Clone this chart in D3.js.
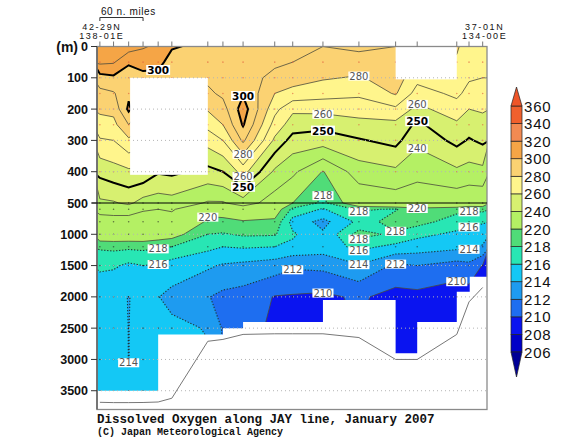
<!DOCTYPE html>
<html>
<head>
<meta charset="utf-8">
<script src="https://cdn.jsdelivr.net/npm/d3@7"></script>
<style>
  body { margin: 0; background: #fff; }
</style>
</head>
<body>
<div id="chart"></div>
<script>
// stations along the section, nautical miles from 42-29N 138-01E
var stationNm = [0, 19, 40, 60, 81, 100, 150, 171, 199, 243, 268, 310, 360, 411, 441, 496, 513, 532];
var depths = [0, 50, 100, 150, 200, 250, 300, 400, 500, 600, 800, 1000, 1200, 1500, 2000, 2500, 3000, 3500];

// dissolved oxygen (umol/kg), one column per station, one value per depth
var oxygen = [
  [318, 312, 296, 287, 282, 276, 269, 253, 238, 233, 226, 222, 218.3, 216.5, 214.05, 214.3, 214.4, 214.4],
  [316, 311, 298, 289, 283, 277, 270, 256, 239, 234, 226, 222, 218.5, 216.3, 214.05, 214.3, 214.4, 214.4],
  [315, 301, 296, 298, 302, 290, 278, 258, 242, 234, 226, 222, 218.4, 215.6, 213.995, 213.99, 213.99, 214.1],
  [311, 304, 297, 292, 288, 282, 275, 258, 236, 231, 225, 222, 218.5, 216, 214.05, 214.3, 214.3, 214.3],
  [308, 303, 297, 292, 288, 282, 275, 251, 235, 230, 225, 221.5, 218.2, 215.8, 214.05, 214.3, 214.3, 214.3],
  [301, 296, 293, 290, 286, 280, 273, 252, 236, 231, 226, 221, 218, 215, 213.5, 214.4, 214.4, 214.4],
  [297, 294, 292, 288, 281, 273, 264, 247, 229, 221, 219.3, 218, 216.5, 214.3, 212.1, 213.9, 214.2, 214.2],
  [294, 293, 293, 292, 286, 280, 270, 250, 229, 221, 219.5, 217.8, 216, 213.8, 211.5, 211.8, 212, 212],
  [293, 292, 295, 299, 305, 301, 292, 264, 235, 224, 219.6, 218.3, 216.2, 213.5, 211.2, 211, 211, 211],
  [294, 292, 287, 280, 273, 266, 258, 238, 225, 221.5, 219.5, 218.2, 216, 213, 209.9, 209.5, 209.5, 209.5],
  [293, 290, 284, 277, 262, 255, 246, 232, 220, 217.5, 215.2, 216.3, 215.5, 212.3, 209.8, 209.3, 209.3, 209.3],
  [290, 287, 281, 274, 263, 253, 245, 219.5, 217.5, 215.8, 213.4, 214.3, 215, 212.5, 209.6, 209.3, 209.3, 209.3],
  [292, 286, 279, 272, 264, 257, 249, 235, 222, 218.3, 216.5, 218.8, 216.5, 213.8, 210.3, 210, 210, 210],
  [290, 288, 285, 281, 268, 257, 253, 238, 224, 217.8, 219.3, 217.5, 215.5, 211.6, 209.3, 209.2, 209, 209],
  [283, 279, 273, 266, 257, 248, 242, 234, 222, 219.5, 218.8, 216.5, 215, 212, 209.4, 209.2, 209.2, 209.2],
  [281, 279, 276, 272, 266, 258, 253, 238, 223, 218.6, 217, 215.6, 214.5, 211.2, 208.8, 209, 209, 209],
  [276, 274, 271, 267, 260, 255, 249, 236, 222, 218.3, 216.5, 215.2, 214.3, 211.5, 209, 209.2, 209.2, 209.2],
  [274, 272, 270, 266, 261, 257, 252, 237, 222, 218.5, 216.2, 215, 213.8, 209.9, 209.2, 209.2, 209.2, 209.2]
];

var seafloor = [3685, 3690, 3690, 3688, 3680, 3620, 2710, 2680, 2600, 2590, 2590, 2590, 2650, 3000, 3000, 2600, 2080, 1850];

var fillLevels = [206, 208, 210, 212, 214, 216, 218, 220, 240, 260, 280, 300, 320, 340, 360];
var fillColors = ["#000096", "#0000c8", "#0a14f0", "#1e6ef0", "#1e9bf0", "#14c8f5", "#28e6b4", "#50dc78",
                  "#b4f064", "#d7f070", "#fff58c", "#fbd272", "#f5a546", "#f28a52", "#f0602d", "#ee5528"];
var lineLevels = [206, 208, 210, 212, 214, 216, 218, 220, 230, 240, 250, 260, 270, 280, 290, 300, 310, 320, 330, 340, 350, 360];
var boldLevels = [250, 300];
var upperTicks = [0, 100, 200, 300, 400, 500];
var lowerTicks = [1000, 1500, 2000, 2500, 3000, 3500];

// white areas without data: [from nm, to nm, top m, bottom m]
var noDataBoxes = [[42, 150, 100, 410], [411, 496, 0, 105]];
// deepest usable data: [from nm, to nm, depth m]
var dataFloor = [[-10, 81, 3500], [81, 171, 2600], [171, 199, 2500], [199, 310, 2400], [310, 411, 2050],
                 [411, 441, 2900], [441, 496, 2400], [496, 514, 1920], [514, 545, 1680]];

// contour labels: [level, station index, n-th crossing from the top]
var contourLabels = [
  [300, 4, 1], [300, 8, 1], [280, 12, 1], [280, 8, 1], [260, 8, 1], [250, 8, 1], [260, 11, 1], [250, 11, 1],
  [260, 14, 1], [250, 14, 1], [240, 14, 1], [218, 11, 1],
  [220, 6, 1], [218, 4, 1], [216, 4, 1], [218, 12, 1], [220, 14, 1], [218, 16, 1], [216, 16, 1], [218, 13, 3],
  [218, 12, 3], [216, 12, 1], [214, 12, 1], [212, 10, 1], [212, 13, 1], [210, 11, 1], [210, 15, 1], [214, 16, 1],
  [214, 2, 2]
];

var width = 570, height = 441;
var plotLeft = 97, plotRight = 487, plotTop = 46.5, plotSplit = 203, plotBottom = 409.5;

var x = d3.scaleLinear().domain([-4, 538]).range([plotLeft, plotRight]);
var y = d3.scaleLinear().domain([0, 500, 3800]).range([plotTop, plotSplit, plotBottom]);
var stationAt = d3.scaleLinear().domain(d3.range(stationNm.length)).range(stationNm);
var depthAt = d3.scaleLinear().domain(d3.range(depths.length)).range(depths);

var nx = stationNm.length, ny = depths.length;
var grid = new Array(nx * ny);
for (var j = 0; j < ny; j++) {
  for (var i = 0; i < nx; i++) grid[j * nx + i] = oxygen[i][j];
}

var svg = d3.select("#chart").append("svg").attr("width", width).attr("height", height);
svg.append("defs").append("clipPath").attr("id", "plotClip")
  .append("rect").attr("x", plotLeft).attr("y", plotTop)
  .attr("width", plotRight - plotLeft).attr("height", plotBottom - plotTop);

var path = d3.geoPath();
function toScreen(geom) {
  return {
    type: "MultiPolygon",
    coordinates: geom.coordinates.map(function (poly) {
      return poly.map(function (ring) {
        return ring.map(function (p) {
          return [x(stationAt(p[0] - 0.5)), y(depthAt(p[1] - 0.5))];
        });
      });
    })
  };
}

var contour = d3.contours().size([nx, ny]);
var plot = svg.append("g").attr("clip-path", "url(#plotClip)");

plot.append("rect").attr("x", plotLeft).attr("y", plotTop)
  .attr("width", plotRight - plotLeft).attr("height", plotBottom - plotTop)
  .attr("fill", fillColors[0]);

plot.selectAll("path.band")
  .data(contour.thresholds(fillLevels)(grid))
  .enter().append("path")
  .attr("class", "band")
  .attr("d", function (d) { return path(toScreen(d)); })
  .attr("fill", function (d, k) { return fillColors[k + 1]; })
  .attr("fill-rule", "evenodd");

plot.selectAll("path.iso")
  .data(contour.thresholds(lineLevels)(grid))
  .enter().append("path")
  .attr("class", "iso")
  .attr("d", function (d) { return path(toScreen(d)); })
  .attr("fill", "none")
  .attr("stroke", function (d) {
    if (boldLevels.indexOf(d.value) >= 0) return "#000";
    return d.value % 10 === 0 ? "#4a4a3c" : "#1e3838";
  })
  .attr("stroke-width", function (d) {
    if (boldLevels.indexOf(d.value) >= 0) return 2;
    return d.value % 10 === 0 ? 0.8 : 1.1;
  })
  .attr("stroke-dasharray", function (d) { return d.value % 10 === 0 ? null : "1.3,1.7"; });

// sample points
stationNm.forEach(function (nm, i) {
  depths.forEach(function (dep, j) {
    if (j === 0) return;
    plot.append("circle").attr("cx", x(nm)).attr("cy", y(dep)).attr("r", 0.8)
      .attr("fill", dep < 500 ? "#e0563a" : "#222").attr("opacity", 0.6);
  });
});

// missing data
plot.selectAll("rect.nodata")
  .data(noDataBoxes)
  .enter().append("rect")
  .attr("x", function (d) { return x(d[0]); })
  .attr("y", function (d) { return y(d[2]); })
  .attr("width", function (d) { return x(d[1]) - x(d[0]); })
  .attr("height", function (d) { return y(d[3]) - y(d[2]); })
  .attr("fill", "#fff");

var floorPts = [[x(-10), y(4000)]];
dataFloor.forEach(function (s) {
  floorPts.push([x(s[0]), y(s[2])]);
  floorPts.push([x(s[1]), y(s[2])]);
});
floorPts.push([x(545), y(4000)]);
plot.append("path").attr("d", "M" + floorPts.join("L") + "Z").attr("fill", "#fff");

// dotted depth grid
plot.selectAll("line.grid")
  .data(upperTicks.slice(1, 5).concat(lowerTicks))
  .enter().append("line")
  .attr("x1", plotLeft).attr("x2", plotRight)
  .attr("y1", function (d) { return y(d); }).attr("y2", function (d) { return y(d); })
  .attr("stroke", "#b4b4b4").attr("stroke-width", 1).attr("stroke-dasharray", "1,3");

// sea floor
plot.append("path")
  .attr("d", d3.line().x(function (d, i) { return x(stationNm[i]); }).y(function (d) { return y(d); })(seafloor))
  .attr("fill", "none").attr("stroke", "#777").attr("stroke-width", 1);

// frame
svg.append("rect").attr("x", plotLeft).attr("y", plotTop)
  .attr("width", plotRight - plotLeft).attr("height", plotBottom - plotTop)
  .attr("fill", "none").attr("stroke", "#8a8a8a").attr("stroke-width", 1.3);
svg.append("line").attr("x1", plotLeft).attr("x2", plotLeft).attr("y1", plotTop).attr("y2", plotBottom)
  .attr("stroke", "#666").attr("stroke-width", 1.6);
svg.append("line").attr("x1", plotLeft - 5).attr("x2", plotRight).attr("y1", y(500)).attr("y2", y(500))
  .attr("stroke", "#000").attr("stroke-width", 1.1);

// depth axis
var ticks = upperTicks.concat(lowerTicks);
svg.selectAll("line.ytick").data(ticks).enter().append("line")
  .attr("x1", plotLeft - 6).attr("x2", plotLeft)
  .attr("y1", function (d) { return y(d); }).attr("y2", function (d) { return y(d); })
  .attr("stroke", "#333").attr("stroke-width", 1);
svg.selectAll("text.ylab").data(ticks).enter().append("text")
  .attr("x", 88).attr("y", function (d) { return y(d) + 4.5; })
  .attr("text-anchor", "end")
  .attr("font-family", "Liberation Sans, Arial, sans-serif").attr("font-size", "12.5px").attr("font-weight", "bold")
  .attr("fill", "#111")
  .text(function (d) { return d; });
svg.append("text").attr("x", 78).attr("y", y(0) + 5)
  .attr("text-anchor", "end")
  .attr("font-family", "Liberation Sans, Arial, sans-serif").attr("font-size", "14px").attr("font-weight", "bold")
  .attr("fill", "#111").text("(m)");

// station ticks on top
svg.selectAll("line.xtick").data(stationNm).enter().append("line")
  .attr("x1", function (d) { return x(d); }).attr("x2", function (d) { return x(d); })
  .attr("y1", plotTop - 5).attr("y2", plotTop)
  .attr("stroke", "#777").attr("stroke-width", 1);

var ends = [[stationNm[0], "42-29N", "138-01E"], [stationNm[nx - 1], "37-01N", "134-00E"]];
ends.forEach(function (e) {
  svg.append("text").attr("x", x(e[0]) + 2).attr("y", 29.8).attr("text-anchor", "middle")
    .attr("font-family", "Liberation Sans, Arial, sans-serif").attr("font-size", "9px").attr("letter-spacing", "1.6px")
    .attr("fill", "#111").text(e[1]);
  svg.append("text").attr("x", x(e[0]) + 2).attr("y", 39.3).attr("text-anchor", "middle")
    .attr("font-family", "Liberation Sans, Arial, sans-serif").attr("font-size", "9px").attr("letter-spacing", "1.6px")
    .attr("fill", "#111").text(e[2]);
});

// distance scale bar (60 nautical miles)
svg.append("path")
  .attr("d", "M" + x(0) + ",21V17.5H" + x(60) + "V21")
  .attr("fill", "none").attr("stroke", "#333").attr("stroke-width", 1);
svg.append("text").attr("x", x(0) + 1).attr("y", 14.5)
  .attr("font-family", "Liberation Sans, Arial, sans-serif").attr("font-size", "10px").attr("letter-spacing", "0.6px")
  .attr("fill", "#111").text("60 n. miles");

// contour labels
function crossingDepth(i, level, nth) {
  var col = oxygen[i], count = 0;
  for (var k = 0; k < col.length - 1; k++) {
    var a = col[k], b = col[k + 1];
    if (a !== b && (a - level) * (b - level) <= 0) {
      count++;
      if (count === nth) return depths[k] + (level - a) / (b - a) * (depths[k + 1] - depths[k]);
    }
  }
  return null;
}
var labelG = svg.append("g");
contourLabels.forEach(function (l) {
  var dep = crossingDepth(l[1], l[0], l[2]);
  if (dep === null) return;
  var bold = boldLevels.indexOf(l[0]) >= 0;
  var g = labelG.append("g");
  var t = g.append("text")
    .attr("x", x(stationNm[l[1]])).attr("y", y(dep) + 4)
    .attr("text-anchor", "middle")
    .attr("font-family", "DejaVu Sans, Verdana, sans-serif")
    .attr("font-size", bold ? "10.5px" : "10px")
    .attr("font-weight", bold ? "bold" : "normal")
    .attr("fill", bold ? "#000" : "#555")
    .text(l[0]);
  var bb = t.node().getBBox();
  g.insert("rect", "text").attr("x", bb.x - 1).attr("y", bb.y + 1)
    .attr("width", bb.width + 2).attr("height", bb.height - 2).attr("fill", "#fff");
});

// colour bar
var cbX = 511, cbW = 11;
var cbY = d3.scaleLinear().domain([0, fillLevels.length - 1]).range([352, 106]);
var cb = svg.append("g");
fillLevels.slice(0, -1).forEach(function (lv, k) {
  cb.append("rect").attr("x", cbX).attr("y", cbY(k + 1)).attr("width", cbW).attr("height", cbY(k) - cbY(k + 1))
    .attr("fill", fillColors[k + 1]).attr("stroke", "#222").attr("stroke-width", 0.7);
});
cb.append("path").attr("d", "M" + cbX + "," + cbY(fillLevels.length - 1) + "L" + (cbX + cbW / 2) + ",87L" + (cbX + cbW) + "," + cbY(fillLevels.length - 1) + "Z")
  .attr("fill", fillColors[fillColors.length - 1]).attr("stroke", "#222").attr("stroke-width", 0.7);
cb.append("path").attr("d", "M" + cbX + "," + cbY(0) + "L" + (cbX + cbW / 2) + ",377L" + (cbX + cbW) + "," + cbY(0) + "Z")
  .attr("fill", fillColors[0]).attr("stroke", "#222").attr("stroke-width", 0.7);
cb.selectAll("text").data(fillLevels).enter().append("text")
  .attr("x", 524).attr("y", function (d, k) { return cbY(k) + 5.5; })
  .attr("font-family", "Liberation Sans, Arial, sans-serif").attr("font-size", "15px").attr("letter-spacing", "0.8px")
  .attr("fill", "#111").text(function (d) { return d; });

// titles
svg.append("text").attr("x", 97).attr("y", 422.5)
  .attr("font-family", "Liberation Mono, Courier New, monospace").attr("font-size", "12.5px").attr("font-weight", "bold")
  .attr("fill", "#111").text("Dissolved Oxygen along JAY line, January 2007");
svg.append("text").attr("x", 97).attr("y", 434.5)
  .attr("font-family", "Liberation Mono, Courier New, monospace").attr("font-size", "10px").attr("font-weight", "bold")
  .attr("fill", "#111").text("(C) Japan Meteorological Agency");
</script>
</body>
</html>
